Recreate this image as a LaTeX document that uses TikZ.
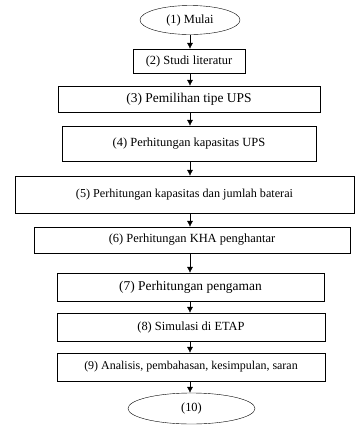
\documentclass[tikz,border=0pt]{standalone}
\usepackage{fontspec}
\setmainfont{Liberation Serif}
\usetikzlibrary{shapes.geometric,arrows.meta}

\tikzset{
  stepbox/.style={draw,thin,inner sep=0pt,font=\fontsize{12.5}{14}\selectfont},
  terminal/.style={stepbox,ellipse},
  arr/.style={-{Latex[length=6pt,width=6pt]},thin}
}

\begin{document}
\begin{tikzpicture}[x=1bp,y=-1bp]
  % Draw frame
  \useasboundingbox (0,0) rectangle (355,425);

  % Start
  \node[terminal,minimum width=100bp,minimum height=29bp] (mulai) at (190,20) {(1) Mulai};

  % Steps
  \node[stepbox,minimum width=112bp,minimum height=24bp] (studi) at (189,61) {(2) Studi literatur};
  \node[stepbox,minimum width=262bp,minimum height=26bp,font=\fontsize{13.5}{15}\selectfont] (tipe) at (189,99) {(3) Pemilihan tipe UPS};
  \node[stepbox,minimum width=254bp,minimum height=35bp] (ups) at (189,143.5) {(4) Perhitungan kapasitas UPS};
  \node[stepbox,minimum width=339bp,minimum height=37bp,font=\fontsize{12.2}{14}\selectfont] (baterai) at (184.5,194.5) {(5) Perhitungan kapasitas dan jumlah baterai};
  \node[stepbox,minimum width=316bp,minimum height=26bp] (kha) at (192,240) {(6) Perhitungan KHA penghantar};
  \node[stepbox,minimum width=267bp,minimum height=28bp,font=\fontsize{13.5}{15}\selectfont] (pengaman) at (190.5,287) {(7) Perhitungan pengaman};
  \node[stepbox,minimum width=268bp,minimum height=28bp] (etap) at (191,327) {(8) Simulasi di ETAP};
  \node[stepbox,minimum width=268bp,minimum height=28bp,font=\fontsize{12}{14}\selectfont] (analisis) at (191,367) {(9) Analisis, pembahasan, kesimpulan, saran};

  % End
  \node[terminal,minimum width=127bp,minimum height=31bp] (selesai) at (191.5,408.5) {(10)};

  % Arrows
  \foreach \a/\b in {mulai/studi,studi/tipe,tipe/ups,ups/baterai,baterai/kha,kha/pengaman,pengaman/etap,etap/analisis,analisis/selesai}
    \draw[arr] (\a.south -| mulai) -- (\b.north -| mulai);
\end{tikzpicture}
\end{document}
